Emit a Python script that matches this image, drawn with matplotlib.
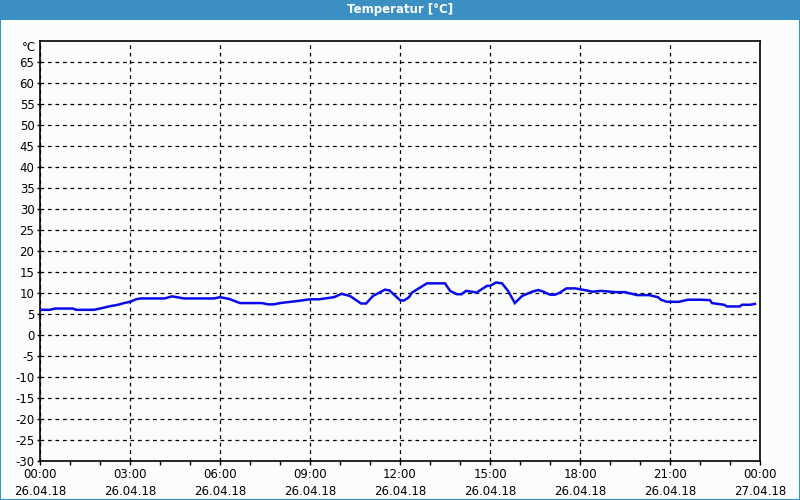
import matplotlib
matplotlib.use("Agg")
import matplotlib.pyplot as plt
from matplotlib.patches import Rectangle

# Temperature curve, hours since 26.04.18 00:00
hours = [0.0, 0.33, 0.5, 1.1, 1.2, 1.8, 2.0, 2.3, 2.6, 2.8, 3.0, 3.2, 3.35, 4.15,
         4.4, 4.8, 5.8, 6.0, 6.3, 6.67, 7.4, 7.6, 7.8, 8.0, 8.6, 9.0, 9.3, 9.8,
         10.05, 10.33, 10.7, 10.87, 11.1, 11.5, 11.65, 12.0, 12.13, 12.3, 12.4,
         12.83, 12.9, 13.5, 13.67, 13.9, 14.05, 14.2, 14.4, 14.55, 14.9, 15.0,
         15.2, 15.4, 15.6, 15.83, 16.07, 16.4, 16.6, 16.75, 17.0, 17.17, 17.33,
         17.55, 17.83, 18.0, 18.3, 18.4, 18.7, 19.2, 19.5, 19.67, 19.9, 20.3,
         20.6, 20.7, 20.9, 21.3, 21.6, 22.0, 22.33, 22.4, 22.8, 22.9, 23.33,
         23.4, 23.67, 23.83]
temp = [6.0, 6.0, 6.3, 6.3, 6.0, 6.0, 6.3, 6.8, 7.2, 7.6, 7.9, 8.5, 8.7, 8.7,
        9.2, 8.7, 8.7, 9.0, 8.6, 7.6, 7.6, 7.3, 7.3, 7.6, 8.1, 8.5, 8.5, 9.0,
        9.8, 9.3, 7.5, 7.5, 9.3, 10.8, 10.6, 8.3, 8.2, 9.0, 10.1,
        12.0, 12.3, 12.3, 10.5, 9.7, 9.7, 10.5, 10.3, 10.1, 11.7, 11.7,
        12.5, 12.3, 10.5, 7.6, 9.3, 10.3, 10.7, 10.4, 9.6, 9.6, 10.1,
        11.1, 11.1, 10.9, 10.5, 10.3, 10.5, 10.2, 10.2, 9.9, 9.5, 9.5,
        9.0, 8.4, 7.9, 7.9, 8.4, 8.4, 8.3, 7.6, 7.2, 6.8, 6.8,
        7.2, 7.2, 7.4]

x_ticks = [0, 3, 6, 9, 12, 15, 18, 21, 24]
x_labels = ["00:00\n26.04.18", "03:00\n26.04.18", "06:00\n26.04.18",
            "09:00\n26.04.18", "12:00\n26.04.18", "15:00\n26.04.18",
            "18:00\n26.04.18", "21:00\n26.04.18", "00:00\n27.04.18"]
y_ticks = list(range(-30, 70, 5))

bg = '#fbfdfc'
bar_blue = '#3b8fc3'
fs = 8.5

plt.rcParams['font.family'] = ['DejaVu Sans']
fig = plt.figure(figsize=(8, 5), dpi=100, facecolor=bg)

# title bar and frame
fig.patches.append(Rectangle((0, 0.96), 1, 0.04, transform=fig.transFigure,
                             facecolor=bar_blue, edgecolor='none', zorder=0))
fig.patches.append(Rectangle((0.0006, 0.001), 0.9988, 0.998, transform=fig.transFigure,
                             facecolor='none', edgecolor=bar_blue, linewidth=1.5, zorder=0))
fig.text(0.5, 0.98, "Temperatur [°C]", ha='center', va='center', color='white',
         fontsize=fs, fontweight='bold')

ax = fig.add_axes([0.05, 0.078, 0.90, 0.840])
ax.set_facecolor(bg)

ax.plot(hours, temp, color='#0a0aeb', linewidth=1.8, solid_joinstyle='miter', zorder=3)

ax.set_xlim(0, 24)
ax.set_ylim(-30, 70)
ax.set_xticks(x_ticks)
ax.set_xticklabels(x_labels, fontsize=fs, linespacing=1.45)
ax.set_xticks(range(0, 25), minor=True)
ax.set_yticks(y_ticks)
ax.set_yticklabels([str(v) for v in y_ticks], fontsize=fs)
ax.tick_params(axis='x', which='both', direction='out', length=3, width=1, pad=2)
ax.tick_params(axis='y', which='both', direction='out', length=2, width=1, pad=2)

ax.grid(True, which='major', color='black', linestyle=(0, (3, 3)), linewidth=0.9)
for s in ax.spines.values():
    s.set_linewidth(1.2)
    s.set_color('black')

ax.text(-0.006, 1.0, "°C", transform=ax.transAxes, ha='right', va='top', fontsize=fs)

fig.savefig("out.png", dpi=100, facecolor=bg)
